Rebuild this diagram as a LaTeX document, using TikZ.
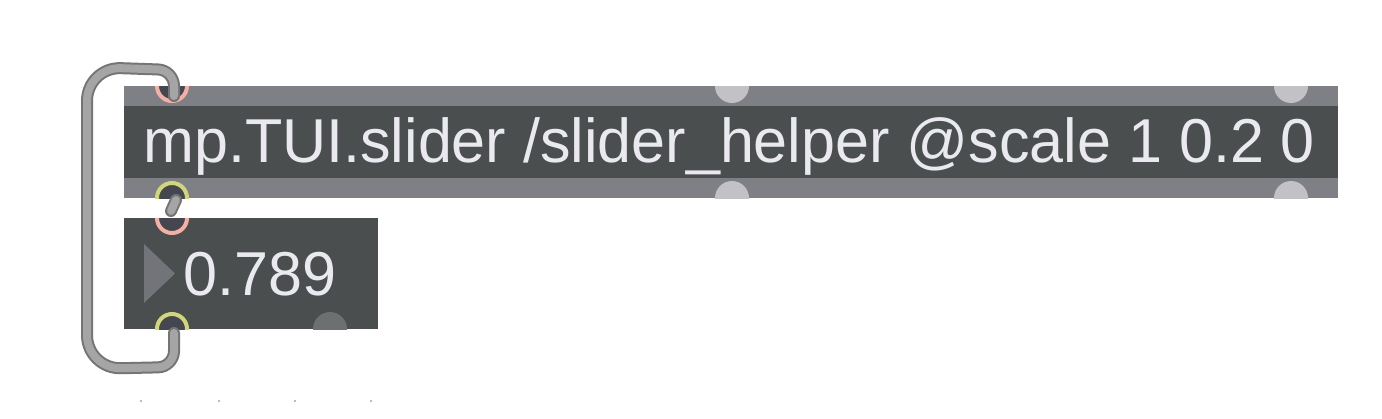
\documentclass[tikz,border=0pt]{standalone}
\usepackage{fontspec}
\setmainfont{Liberation Sans}
\definecolor{bandgray}{HTML}{7F8085}
\definecolor{boxdark}{HTML}{4B4E4F}
\definecolor{labelwhite}{HTML}{E9E9EF}
\definecolor{portgray}{HTML}{C2C2C6}
\definecolor{portdark}{HTML}{6D7070}
\definecolor{socket}{HTML}{44474F}
\definecolor{inpink}{HTML}{F5B0A4}
\definecolor{outyellow}{HTML}{D2D67A}
\definecolor{cordfill}{HTML}{A5A5A5}
\definecolor{cordline}{HTML}{747474}
\definecolor{tickgray}{HTML}{BBBBBB}
\definecolor{arrowgray}{HTML}{727479}
\newcommand{\patchtext}[1]{\scalebox{0.985}[1]{#1}}

\begin{document}
\begin{tikzpicture}[
            x = 1pt, y = -1pt, % pixel coordinates, y downwards
            label/.style = {text = labelwhite, inner sep = 0pt, anchor = base west,
                            font = \fontsize{62}{62}\selectfont},
            cordout/.style = {draw = cordline, line width = 12pt, line cap = round},
            cordin/.style = {draw = cordfill, line width = 8pt, line cap = round},
            inlet/.style = {draw = inpink, line width = 4pt, fill = socket},
            outlet/.style = {draw = outyellow, line width = 4pt, fill = socket}
        ]

        \useasboundingbox[fill = white] (0,0) rectangle (1382,418);

        % object box
        \fill[bandgray] (124,86) rectangle (1338,198);
        \fill[boxdark] (124,106) rectangle (1338,178);
        \node[label] (objtext) at (143,162) {\patchtext{mp.TUI.slider /slider\_helper @scale 1 0.2 0}};

        % number box
        \fill[boxdark] (124,218) rectangle (378,329);
        \fill[arrowgray] (144,244) -- (175,273.5) -- (144,303) -- cycle;
        \node[label] (numtext) at (183,295) {\patchtext{0.789}};

        % ports
        \begin{scope}
            \clip (124,86) rectangle (1338,198);
            \draw[inlet] (172,86) circle (15);
            \draw[outlet] (172,198) circle (15);
            \foreach \px in {732, 1291} {
                \fill[portgray] (\px,86) circle (17);
                \fill[portgray] (\px,198) circle (17);
            }
        \end{scope}
        \begin{scope}
            \clip (124,218) rectangle (378,329);
            \draw[inlet] (172,218) circle (15);
            \draw[outlet] (172,329) circle (15);
            \fill[portdark] (330,329) circle (17);
        \end{scope}

        \coordinate (objin) at (174,96);
        \coordinate (objout) at (176,200);
        \coordinate (numin) at (171,211);
        \coordinate (numout) at (174,333);

        % patch cords
        \foreach \layer in {cordout, cordin} {
            \draw[\layer] (objout) -- (numin);
            \draw[\layer, rounded corners = 16pt] (numout) -- (174,367)
                [rounded corners = 34pt] -- (87,369) -- (87,67)
                [rounded corners = 16pt] -- (174,70) -- (objin);
        }

        % grid ticks
        \foreach \tx in {141, 219, 295, 371}
            \fill[tickgray] (\tx-1.2,400) rectangle (\tx+1.2,402.4);
    \end{tikzpicture}
\end{document}
